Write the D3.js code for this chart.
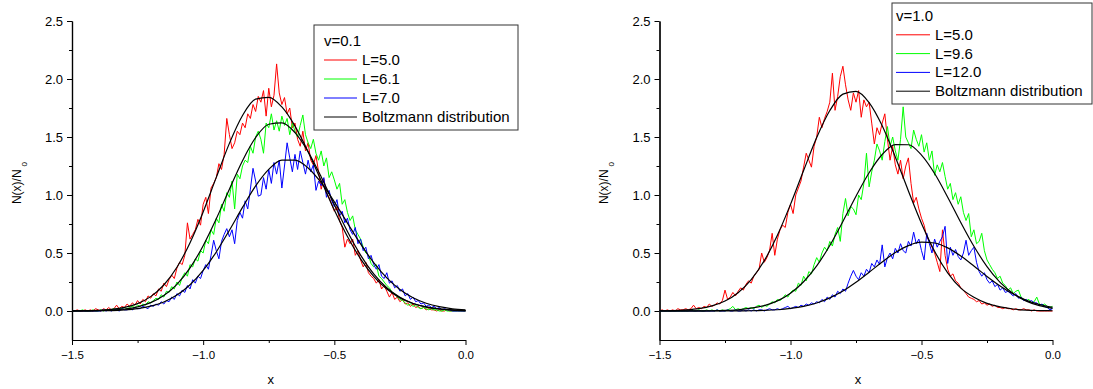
<!DOCTYPE html>
<html><head><meta charset="utf-8">
<script src="https://cdn.jsdelivr.net/npm/d3@7"></script>
<style>
body{margin:0;background:#fff}
svg{display:block}
text{font-family:"Liberation Sans",Arial,Helvetica,sans-serif;fill:#000}
</style>
</head><body>
<svg id="chart" width="1093" height="389"></svg>
<script>
// ---------------- DATA ----------------
// sampling grid of the simulated distributions (x from -1.5 to 0.0)
const dataStart = -1.5, dataStep = 0.01;
// sampling grid of the Boltzmann curves
const fitStart = -1.5, fitStep = 0.05;

const xTickValues = [-1.5, -1.0, -0.5, 0.0];
const xMinorTicks = [-1.25, -0.75, -0.25];
const yTickValues = [0.0, 0.5, 1.0, 1.5, 2.0, 2.5];
const yMinorTicks = [0.25, 0.75, 1.25, 1.75, 2.25];
const xDomain = [-1.5, 0.0];
const yDomain = [-0.25, 2.5];

// ---- panel 1 : v = 0.1 ----
const leftTitle = "v=0.1";
const leftNames = ["L=5.0", "L=6.1", "L=7.0"];
const leftL50 = [
 0,0,0.01,0,0,0.01,0,0.01,0,0.02,
 0.01,0,0.02,0.01,0.03,0.01,0.02,0.05,0.02,0.04,
 0.03,0.06,0.04,0.07,0.05,0.09,0.06,0.10,0.08,0.13,
 0.11,0.15,0.13,0.19,0.17,0.24,0.21,0.27,0.31,0.28,
 0.37,0.42,0.40,0.48,0.76,0.62,0.66,0.70,0.79,0.74,
 0.92,0.98,0.84,1.06,1.10,1.15,1.27,1.22,1.35,1.66,
 1.52,1.40,1.45,1.55,1.52,1.62,1.58,1.70,1.66,1.78,
 1.72,1.85,1.80,1.90,1.68,1.92,1.76,1.86,2.13,1.88,
 1.78,1.84,1.70,1.75,1.58,1.62,1.48,1.42,1.55,1.38,
 1.45,1.30,1.26,1.34,1.20,1.05,1.14,1.02,0.98,0.92,
 0.86,0.90,0.78,0.72,0.55,0.62,0.58,0.62,0.48,0.52,
 0.44,0.38,0.42,0.33,0.30,0.28,0.24,0.27,0.19,0.22,
 0.17,0.12,0.16,0.10,0.12,0.08,0.10,0.06,0.07,0.04,
 0.06,0.03,0.04,0.02,0.03,0.01,0.02,0.01,0.01,0,
 0.01,0,0,0.01,0,0,0,0,0,0,
 0];
const leftL61 = [
 0,0,0,0,0.01,0,0,0,0.01,0,
 0,0.01,0,0.01,0.01,0.01,0.02,0.01,0.02,0.02,
 0.03,0.02,0.03,0.04,0.03,0.05,0.04,0.06,0.05,0.08,
 0.07,0.09,0.11,0.10,0.14,0.12,0.17,0.16,0.21,0.19,
 0.25,0.22,0.29,0.33,0.30,0.40,0.38,0.45,0.43,0.52,
 0.50,0.61,0.58,0.70,0.66,0.80,0.76,0.92,0.86,1.02,
 0.98,1.12,0.88,1.18,1.14,1.25,1.30,1.28,1.42,1.36,
 1.50,1.55,1.48,1.36,1.62,1.58,1.70,1.56,1.64,1.55,
 1.68,1.60,1.66,1.52,1.62,1.55,1.50,1.60,1.69,1.52,
 1.45,1.40,1.48,1.36,1.30,1.38,1.25,1.32,1.15,1.20,
 1.13,1.05,1.10,0.92,0.96,0.85,0.78,0.82,0.70,0.66,
 0.62,0.55,0.50,0.48,0.41,0.38,0.40,0.30,0.28,0.25,
 0.22,0.20,0.16,0.15,0.12,0.10,0.09,0.07,0.05,0.06,
 0.04,0.05,0.03,0.02,0.03,0.02,0.01,0.02,0.01,0.01,
 0,0,0.01,0,0,0,0,0,0,0,
 0];
const leftL70 = [
 0,0,0,0,0,0,0,0,0,0,
 0,0,0.01,0,0.01,0,0.01,0.01,0,0.02,
 0.01,0.01,0.02,0.01,0.03,0.02,0.02,0.04,0.03,0.02,
 0.05,0.04,0.06,0.05,0.08,0.06,0.09,0.08,0.12,0.10,
 0.15,0.13,0.18,0.16,0.22,0.19,0.27,0.24,0.30,0.28,
 0.35,0.40,0.36,0.48,0.61,0.52,0.45,0.60,0.66,0.71,
 0.64,0.70,0.58,0.78,0.85,0.80,0.95,0.88,1.05,1.23,
 1.12,0.99,1.00,1.15,1.05,1.22,1.10,1.28,1.18,1.30,
 1.06,1.25,1.45,1.32,1.20,1.35,1.22,1.38,1.28,1.18,
 1.30,1.20,1.26,1.04,1.12,1.08,1.15,0.98,1.04,0.95,
 0.90,0.96,0.82,0.86,0.76,0.80,0.70,0.66,0.72,0.58,
 0.62,0.52,0.55,0.45,0.48,0.40,0.36,0.40,0.30,0.28,
 0.33,0.24,0.26,0.20,0.22,0.17,0.19,0.13,0.15,0.10,
 0.12,0.08,0.09,0.06,0.07,0.04,0.05,0.03,0.04,0.02,
 0.03,0.01,0.02,0.01,0.01,0,0,0,0,0,
 0];
// Boltzmann curves, panel 1 (every 0.05 from -1.5 to 0)
const leftFit50 = [0.001,0.002,0.006,0.014,0.031,0.064,0.124,0.224,0.377,0.589,0.854,1.152,1.445,1.685,1.826,1.842,1.759,1.594,1.373,1.122,0.871,0.642,0.450,0.299,0.189,0.113,0.065,0.035,0.018,0.009,0.004];
const leftFit61 = [0.0004,0.001,0.003,0.008,0.017,0.036,0.072,0.133,0.230,0.372,0.563,0.795,1.050,1.296,1.495,1.610,1.622,1.538,1.373,1.156,0.916,0.685,0.482,0.320,0.200,0.118,0.065,0.034,0.017,0.008,0.003];
const leftFit70 = [0.0003,0.0007,0.002,0.004,0.010,0.021,0.042,0.078,0.137,0.226,0.350,0.509,0.696,0.893,1.078,1.221,1.300,1.301,1.233,1.106,0.941,0.758,0.578,0.418,0.286,0.186,0.114,0.067,0.037,0.019,0.0095];

// ---- panel 2 : v = 1.0 ----
const rightTitle = "v=1.0";
const rightNames = ["L=5.0", "L=9.6", "L=12.0"];
const rightL50 = [
 0,0.01,0,0.01,0,0.01,0,0.02,0.01,0.01,
 0.02,0.01,0.02,0.05,0.02,0.03,0.02,0.04,0.03,0.06,
 0.04,0.05,0.07,0.06,0.09,0.18,0.10,0.12,0.16,0.13,
 0.17,0.20,0.18,0.23,0.26,0.24,0.30,0.33,0.36,0.50,
 0.42,0.46,0.52,0.67,0.48,0.62,0.70,0.74,0.72,0.85,
 0.92,0.84,1.00,1.06,1.12,1.24,1.36,1.30,1.24,1.42,
 1.50,1.67,1.58,1.66,1.72,1.80,2.05,1.73,1.85,2.02,
 2.11,1.95,1.82,1.73,1.88,1.80,1.90,1.67,1.82,1.76,
 1.80,1.62,1.44,1.58,1.52,1.62,1.70,1.48,1.30,1.42,
 1.26,1.18,1.30,1.14,1.25,1.32,1.10,0.93,0.98,0.88,
 0.80,0.74,0.64,0.60,0.55,0.50,0.42,0.34,0.70,0.48,
 0.36,0.30,0.32,0.26,0.24,0.20,0.18,0.15,0.12,0.11,
 0.10,0.08,0.09,0.06,0.07,0.05,0.06,0.04,0.05,0.03,
 0.03,0.02,0.03,0.02,0.02,0.01,0.02,0.01,0.01,0.02,
 0.01,0.01,0,0.01,0,0,0,0,0,0,
 0];
const rightL96 = [
 0,0,0,0,0,0,0,0,0,0,
 0,0,0.01,0,0,0.01,0,0,0.01,0,
 0.01,0,0.01,0,0.01,0,0.01,0.02,0.04,0.01,
 0.02,0.01,0.02,0.03,0.02,0.03,0.02,0.04,0.05,0.03,
 0.05,0.04,0.06,0.08,0.07,0.10,0.09,0.11,0.14,0.12,
 0.16,0.18,0.17,0.24,0.22,0.30,0.26,0.34,0.32,0.40,
 0.46,0.42,0.50,0.55,0.52,0.60,0.56,0.66,0.72,0.60,
 0.84,0.97,0.82,0.90,0.88,0.83,1.00,0.96,1.10,1.36,
 1.07,1.20,1.30,1.44,1.38,1.30,1.46,1.59,1.42,1.50,
 1.38,1.30,1.48,1.76,1.50,1.45,1.40,1.56,1.48,1.42,
 1.52,1.37,1.45,1.30,1.38,1.17,1.26,1.20,1.28,1.16,
 1.05,1.10,0.96,1.02,0.92,0.985,0.85,0.78,0.84,0.64,
 0.70,0.58,0.60,0.67,0.52,0.44,0.40,0.36,0.33,0.28,
 0.30,0.24,0.22,0.18,0.20,0.15,0.17,0.18,0.12,0.10,
 0.09,0.10,0.07,0.08,0.12,0.06,0.05,0.06,0.04,0.03,
 0.04];
const rightL120 = [
 0,0,0,0,0,0,0,0,0,0,
 0,0,0,0,0,0,0,0,0,0,
 0,0,0.01,0,0,0,0.01,0,0,0.01,
 0,0,0.01,0,0.01,0,0.01,0,0.01,0.01,
 0,0.01,0.02,0.01,0.01,0.02,0.01,0.02,0.03,0.04,
 0.02,0.03,0.04,0.03,0.05,0.04,0.06,0.05,0.07,0.06,
 0.08,0.07,0.10,0.08,0.12,0.10,0.14,0.12,0.17,0.15,
 0.19,0.17,0.24,0.30,0.35,0.30,0.27,0.33,0.30,0.36,
 0.33,0.41,0.38,0.44,0.40,0.57,0.38,0.46,0.50,0.45,
 0.54,0.50,0.58,0.52,0.50,0.60,0.56,0.68,0.58,0.62,
 0.52,0.44,0.67,0.58,0.50,0.62,0.55,0.60,0.64,0.73,
 0.41,0.55,0.48,0.53,0.47,0.44,0.50,0.61,0.48,0.52,
 0.55,0.42,0.34,0.30,0.33,0.27,0.24,0.26,0.21,0.23,
 0.18,0.20,0.16,0.17,0.15,0.13,0.15,0.11,0.12,0.09,
 0.10,0.08,0.09,0.07,0.07,0.05,0.06,0.04,0.03,0.01,
 0.02];
const rightFit50 = [0.002,0.004,0.010,0.021,0.044,0.086,0.158,0.271,0.434,0.653,0.919,1.211,1.495,1.728,1.870,1.894,1.797,1.597,1.328,1.035,0.755,0.515,0.329,0.197,0.118,0.066,0.035,0.017,0.008,0.004,0.002];
const rightFit96 = [0,0,0.0003,0.0008,0.002,0.005,0.011,0.024,0.047,0.087,0.153,0.252,0.389,0.565,0.772,0.990,1.192,1.349,1.435,1.433,1.344,1.185,0.981,0.763,0.558,0.383,0.247,0.150,0.085,0.046,0.023];
const rightFit120 = [0,0,0,0,0.0001,0.0004,0.001,0.002,0.005,0.011,0.022,0.040,0.069,0.113,0.172,0.247,0.334,0.423,0.504,0.564,0.593,0.586,0.544,0.474,0.388,0.298,0.216,0.146,0.093,0.056,0.032];

const fitName = "Boltzmann distribution";
const xLabel = "x";
const yLabelMain = "N(x)/N";
const yLabelSub = "0";
const seriesColors = ["#ff0000", "#00ff00", "#0000ff"];

// ---------------- DRAWING ----------------
const svg = d3.select("#chart");

function toPoints(arr, start, step) {
  return arr.map((v, i) => [start + i * step, v]);
}

function drawPanel(cfg) {
  const x = d3.scaleLinear().domain(xDomain).range([cfg.left, cfg.right]);
  const y = d3.scaleLinear().domain(yDomain).range([cfg.bottom, cfg.top]);
  const g = svg.append("g");

  // axes
  const yAxis = d3.axisLeft(y).tickValues(yTickValues).tickFormat(d3.format(".1f"))
    .tickSize(5).tickSizeOuter(0).tickPadding(4);
  const yAxisMinor = d3.axisLeft(y).tickValues(yMinorTicks).tickFormat("")
    .tickSize(3).tickSizeOuter(0);
  const xAxis = d3.axisBottom(x).tickValues(xTickValues).tickFormat(d3.format(".1f"))
    .tickSize(5).tickSizeOuter(0).tickPadding(6);
  const xAxisMinor = d3.axisBottom(x).tickValues(xMinorTicks).tickFormat("")
    .tickSize(3).tickSizeOuter(0);

  const ga = g.append("g").attr("transform", `translate(${cfg.left},0)`);
  ga.call(yAxis);
  ga.selectAll(".tick text").attr("font-size", 13);
  ga.append("g").call(yAxisMinor);
  const gx = g.append("g").attr("transform", `translate(0,${cfg.bottom})`);
  gx.call(xAxis);
  gx.selectAll(".tick text").attr("font-size", 11.5);
  gx.append("g").call(xAxisMinor);
  g.selectAll(".domain").attr("stroke", "#000").attr("stroke-width", 1.2);
  g.selectAll(".tick line").attr("stroke", "#000").attr("stroke-width", 1);
  g.selectAll(".tick text").attr("fill", "#000")
    .attr("font-family", '"Liberation Sans",Arial,sans-serif');

  // lines
  const line = d3.line().x(d => x(d[0])).y(d => y(d[1]));
  const smooth = d3.line().x(d => x(d[0])).y(d => y(d[1])).curve(d3.curveMonotoneX);
  cfg.series.forEach((s, i) => {
    g.append("path").datum(toPoints(s, dataStart, dataStep))
      .attr("fill", "none").attr("stroke", seriesColors[i]).attr("stroke-width", 1)
      .attr("d", line);
  });
  cfg.fits.forEach(f => {
    g.append("path").datum(toPoints(f, fitStart, fitStep))
      .attr("fill", "none").attr("stroke", "#000").attr("stroke-width", 1.2)
      .attr("d", smooth);
  });

  // axis labels
  g.append("text").attr("x", (cfg.left + cfg.right) / 2 + 2).attr("y", 384)
    .attr("text-anchor", "middle").attr("font-size", 13).text(xLabel);
  const yl = g.append("text")
    .attr("transform", `translate(${cfg.ylabX},${183}) rotate(-90)`)
    .attr("text-anchor", "middle").attr("font-size", 12);
  yl.append("tspan").text(yLabelMain);
  yl.append("tspan").attr("font-size", 8).attr("dx", 3).attr("dy", 6).text(yLabelSub);

  // legend
  const L = cfg.legend;
  const lg = g.append("g");
  lg.append("rect").attr("x", L.x).attr("y", L.y).attr("width", L.w).attr("height", L.h)
    .attr("fill", "#fff").attr("stroke", "#333").attr("stroke-width", 1);
  lg.append("text").attr("x", L.x + L.pad).attr("y", L.y + L.first + 5)
    .attr("font-size", 15).text(cfg.title);
  const entries = cfg.names.map((n, i) => ({ n, c: seriesColors[i] }))
    .concat([{ n: fitName, c: "#000" }]);
  entries.forEach((e, i) => {
    const cy = L.y + L.first + (i + 1) * L.row;
    lg.append("line").attr("x1", L.x + L.pad).attr("x2", L.x + L.pad + L.len)
      .attr("y1", cy).attr("y2", cy).attr("stroke", e.c).attr("stroke-width", 1);
    lg.append("text").attr("x", L.x + L.pad + L.len + 5).attr("y", cy + 5)
      .attr("font-size", 15).text(e.n);
  });
}

drawPanel({
  left: 72, right: 465.5, top: 21, bottom: 340, ylabX: 21,
  series: [leftL50, leftL61, leftL70],
  fits: [leftFit50, leftFit61, leftFit70],
  title: leftTitle, names: leftNames,
  legend: { x: 314, y: 25, w: 204, h: 105, pad: 10, first: 16, row: 19, len: 33 }
});
drawPanel({
  left: 659.5, right: 1052.5, top: 21, bottom: 340, ylabX: 608,
  series: [rightL50, rightL96, rightL120],
  fits: [rightFit50, rightFit96, rightFit120],
  title: rightTitle, names: rightNames,
  legend: { x: 892, y: 3, w: 200, h: 101, pad: 4, first: 13, row: 18.8, len: 34 }
});
</script>
</body></html>
